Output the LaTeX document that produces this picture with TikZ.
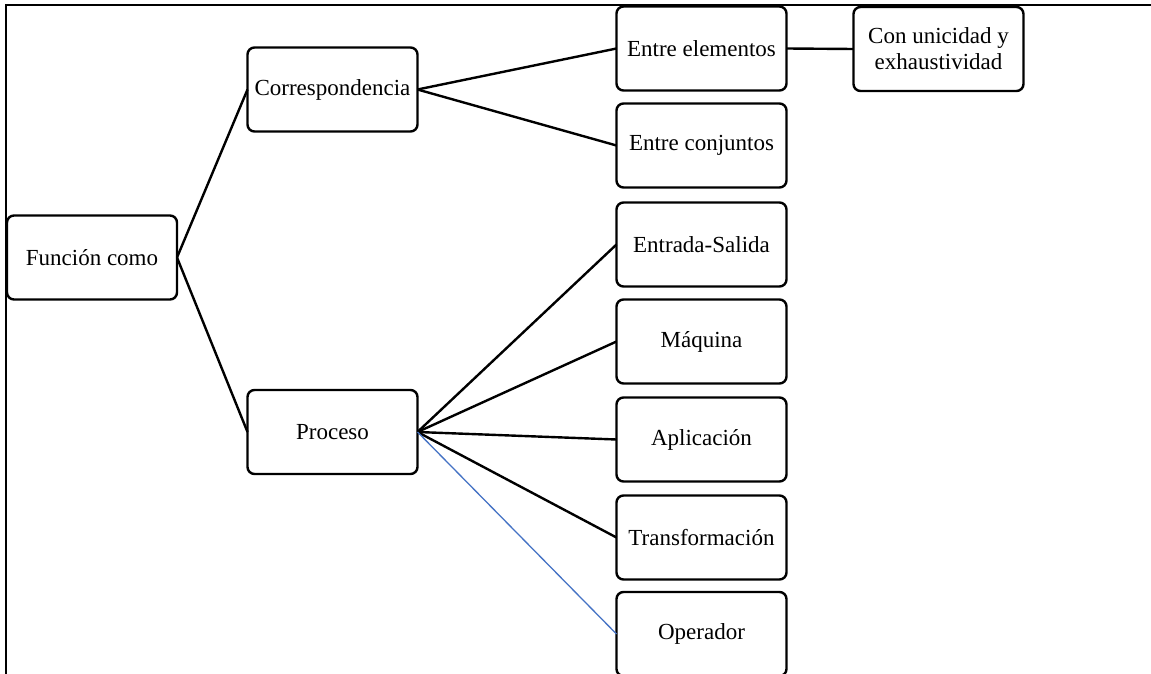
\documentclass[tikz,border=0pt]{standalone}
\usepackage{fontspec}
\setmainfont{Liberation Serif}
\definecolor{linkblue}{RGB}{68,114,196}
\tikzset{
  box/.style={draw=black, line width=2.4pt, rounded corners=7pt, minimum width=170pt,
    minimum height=84pt, inner sep=0pt, outer sep=0pt, align=center,
    font=\fontsize{23}{26}\selectfont},
  link/.style={draw=black, line width=2.4pt},
  bluelink/.style={draw=linkblue, line width=1.3pt},
  frame/.style={draw=black, line width=2.4pt}
}
\begin{document}
\begin{tikzpicture}[x=1pt,y=-1pt]
\useasboundingbox (0,0) rectangle (1151,674);
\clip (0,0) rectangle (1151,674);
\coordinate (fa) at (6,675);
\coordinate (fb) at (6,5);
\coordinate (fc) at (1152,5);
\draw[frame] (fa) -- (fb) -- (fc);

\node[box] (func) at (92,257.5) {Función como};
\node[box] (corr) at (332.5,89.5) {Correspondencia};
\node[box] (proc) at (332.5,432) {Proceso};
\node[box] (ee) at (701.5,48.5) {Entre elementos};
\node[box] (ec) at (701.5,145.5) {Entre conjuntos};
\node[box] (es) at (701.5,244.5) {Entrada-Salida};
\node[box] (maq) at (701.5,341.5) {Máquina};
\node[box] (apl) at (701.5,439.5) {Aplicación};
\node[box] (tra) at (701.5,537.5) {Transformación};
\node[box] (ope) at (701.5,634) {Operador};
\node[box] (con) at (938.5,49) {Con unicidad y\\exhaustividad};

\draw[link] (func.east) -- (corr.west);
\draw[link] (func.east) -- (proc.west);
\draw[link] (corr.east) -- (ee.west);
\draw[link] (corr.east) -- (ec.west);
\draw[link] (ee.east) -- (con.west);
\draw[link] (proc.east) -- (es.west);
\draw[link] (proc.east) -- (maq.west);
\draw[link] (proc.east) -- (apl.west);
\draw[link] (proc.east) -- (tra.west);
\draw[bluelink] (proc.east) -- (ope.west);
\end{tikzpicture}
\end{document}
